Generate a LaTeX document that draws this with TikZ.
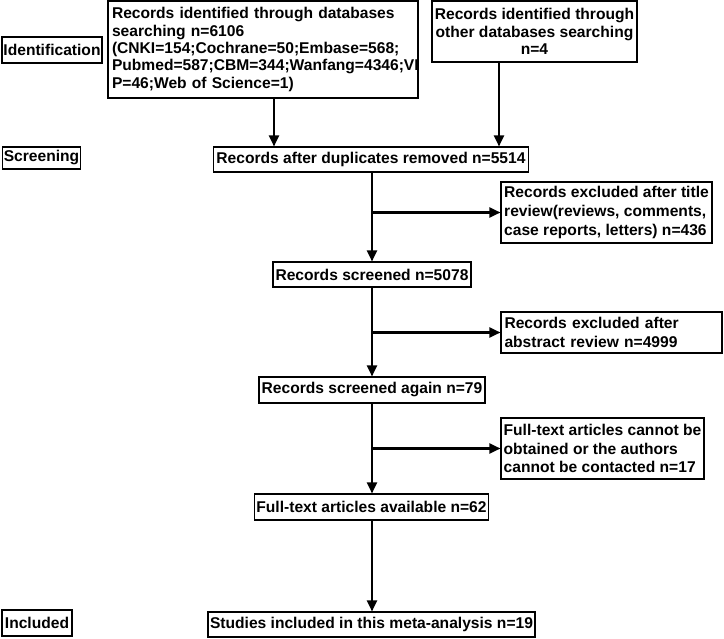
\documentclass[tikz,border=0pt]{standalone}
\usepackage{fontspec}
\setmainfont{Liberation Sans}
\usetikzlibrary{arrows.meta}
\begin{document}
\begin{tikzpicture}[x=1pt,y=-1pt,
  box/.style={draw=black, line width=1.1pt, inner xsep=1.5pt, inner ysep=0pt,
    font=\fontsize{15.6}{17.3}\selectfont\bfseries, anchor=center},
  rbox/.style={box, align=left, font=\fontsize{15.6}{18.6}\selectfont\bfseries},
  arr/.style={line width=2.2pt, -{Triangle[length=11pt,width=10pt]}}]
\useasboundingbox (0,0) rectangle (724,639);
% stage labels
\node[box, minimum width=98, minimum height=26] (ident) at (52,50) {Identification};
\node[box, minimum width=77, minimum height=22] (scrlab) at (41.5,158) {Screening};
\node[box, minimum width=70, minimum height=26] (inclab) at (37,623) {Included};
% top boxes
\node[box, align=left, inner xsep=4pt, text width=302, minimum height=97] (db) at (263,49.5)
  {Records identified through databases\\searching n=6106\\(CNKI=154;Cochrane=50;Embase=568;\\Pubmed=587;CBM=344;Wanfang=4346;VI\\P=46;Web of Science=1)};
\node[box, align=center, minimum width=205, minimum height=61] (other) at (534.5,31.5)
  {Records identified through\\other databases searching\\n=4};
% main column
\node[box, minimum width=315, minimum height=25] (dup) at (371,159.5) {Records after duplicates removed n=5514};
\node[box, minimum width=198, minimum height=25] (scr1) at (372,274.5) {Records screened n=5078};
\node[box, minimum width=226, minimum height=26] (scr2) at (372,390) {Records screened again n=79};
\node[box, minimum width=233, minimum height=26] (full) at (371.5,507) {Full-text articles available n=62};
\node[box, minimum width=327, minimum height=25] (stud) at (371.5,624.5) {Studies included in this meta-analysis n=19};
% exclusion boxes
\node[rbox, minimum width=211, minimum height=61] (ex1) at (606.5,212.5)
  {Records excluded after title\\review(reviews, comments,\\case reports, letters) n=436};
\node[rbox, inner xsep=3.5pt, text width=214, minimum height=41] (ex2) at (611.5,332.5)
  {Records excluded after\\abstract review n=4999};
\node[rbox, minimum width=203, minimum height=61] (ex3) at (602.5,448.5)
  {Full-text articles cannot be\\obtained or the authors\\cannot be contacted n=17};
% connectors
\coordinate (c1) at (274,0);
\coordinate (c2) at (499,0);
\coordinate (spine) at (372,0);
\draw[arr] (db.south -| c1) -- (dup.north -| c1);
\draw[arr] (other.south -| c2) -- (dup.north -| c2);
\draw[arr] (dup.south -| spine) -- (scr1.north -| spine);
\draw[arr] (scr1.south -| spine) -- (scr2.north -| spine);
\draw[arr] (scr2.south -| spine) -- (full.north -| spine);
\draw[arr] (full.south -| spine) -- (stud.north -| spine);
\draw[arr] (ex1.west -| spine) -- (ex1.west);
\draw[arr] (ex2.west -| spine) -- (ex2.west);
\draw[arr] (ex3.west -| spine) -- (ex3.west);
\end{tikzpicture}
\end{document}
